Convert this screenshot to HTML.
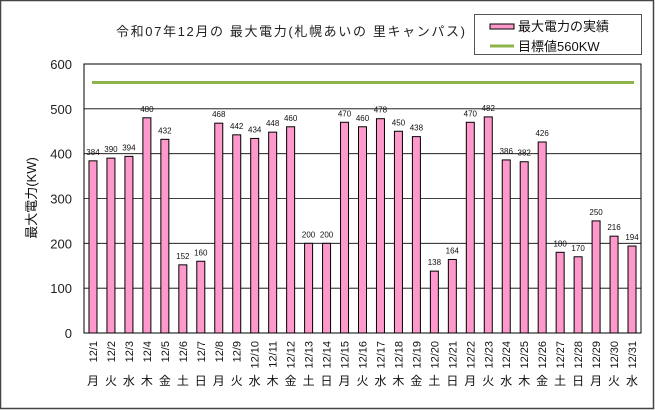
<!DOCTYPE html>
<html><head><meta charset="utf-8"><style>
body{margin:0;background:#fff}
svg{display:block;font-family:"Liberation Sans","Noto Sans CJK JP",sans-serif}
</style></head><body>
<svg id="c" width="655" height="410" xmlns="http://www.w3.org/2000/svg">
<rect x="0.5" y="0.5" width="653" height="408" fill="#fff" stroke="#444" stroke-width="1.5"/>
<text x="116" y="36" font-size="13" textLength="349" lengthAdjust="spacing" fill="#222">令和07年12月の 最大電力(札幌あいの 里キャンパス)</text>
<rect x="474.5" y="14.5" width="167" height="40" fill="#fff" stroke="#555"/>
<rect x="490" y="24" width="24" height="5" fill="#ff99cc" stroke="#000"/>
<text x="518" y="31" font-size="13" fill="#111">最大電力の実績</text>
<line x1="490" y1="46" x2="514" y2="46" stroke="#8db44b" stroke-width="3"/>
<text x="518" y="51" font-size="13" fill="#111">目標値560KW</text>
<text transform="translate(36,198) rotate(-90)" font-size="13" text-anchor="middle" fill="#111">最大電力(KW)</text>
<g id="g"></g>
</svg>
<script>
var v=[384,390,394,480,432,152,160,468,442,434,448,460,200,200,470,460,478,450,438,138,164,470,482,386,382,426,180,170,250,216,194];
var wd="月火水木金土日";
var L=84,R=641,T=64,B=333,s=(B-T)/600,w=(R-L)/31,h='';
for(var k=0;k<=6;k++){var y=B-k*100*s;
 if(k>0&&k<6)h+='<line x1="'+L+'" y1="'+y+'" x2="'+R+'" y2="'+y+'" stroke="#000" stroke-width="0.8"/>';
 h+='<text x="72" y="'+(y+5)+'" font-size="13" text-anchor="end" fill="#222">'+k*100+'</text>';}
for(var i=0;i<31;i++){var cx=L+w*(i+0.5),y=B-v[i]*s;
 h+='<rect x="'+(cx-4)+'" y="'+y+'" width="8" height="'+(B-y)+'" fill="#ff99cc" stroke="#000" stroke-width="1"/>';
 h+='<text x="'+cx+'" y="'+(y-6)+'" font-size="8" text-anchor="middle" fill="#111">'+v[i]+'</text>';
 h+='<text transform="translate('+(cx+4)+',341) rotate(-90)" font-size="11" text-anchor="end" fill="#111">12/'+(i+1)+'</text>';
 h+='<text x="'+cx+'" y="385" font-size="12" text-anchor="middle" fill="#111">'+wd[i%7]+'</text>';}
h+='<line x1="92" y1="82.5" x2="634" y2="82.5" stroke="#8db44b" stroke-width="3"/>';
h+='<rect x="'+L+'" y="'+T+'" width="'+(R-L)+'" height="'+(B-T)+'" fill="none" stroke="#000" stroke-width="1"/>';
document.getElementById('g').innerHTML=h;
</script>
</body></html>
